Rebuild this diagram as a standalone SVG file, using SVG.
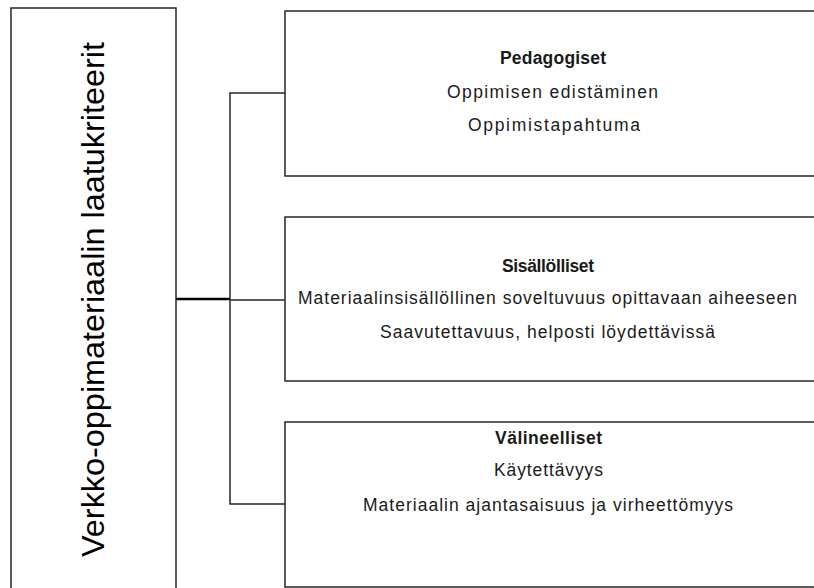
<svg xmlns="http://www.w3.org/2000/svg" width="814" height="588" viewBox="0 0 814 588">
<style>
.box{fill:#ffffff;stroke:#262626;stroke-width:1.5}
.conn{fill:none;stroke:#262626;stroke-width:1.5}
.t{font-family:"Liberation Sans",Arial,sans-serif;font-size:17.5px;fill:#1a1a1a;text-anchor:middle}
.b{font-weight:bold}
.main{font-family:"Liberation Sans",Arial,sans-serif;font-size:32px;fill:#000;text-anchor:middle}
</style>
<rect x="0" y="0" width="814" height="588" fill="#ffffff"/>
<g id="connectors">
<line class="conn" x1="176" y1="299" x2="230" y2="299" style="stroke-width:2.5;stroke:#000"/>
<polyline class="conn" points="285,93 230,93 230,504 285,504"/>
<line class="conn" x1="230" y1="300" x2="285" y2="300"/>
</g>
<g id="root">
<rect class="box" x="11" y="8" width="165" height="600"/>
<text class="main" transform="translate(104,299.5) rotate(-90)" textLength="515" lengthAdjust="spacingAndGlyphs">Verkko-oppimateriaalin  laatukriteerit</text>
</g>
<g id="pedagogiset">
<rect class="box" x="285" y="11" width="540" height="165"/>
<text class="t b" x="553" y="64" textLength="106">Pedagogiset</text>
<text class="t" x="552.5" y="98" textLength="211">Oppimisen edistäminen</text>
<text class="t" x="554" y="131" textLength="172">Oppimistapahtuma</text>
</g>
<g id="sisallolliset">
<rect class="box" x="285" y="217" width="540" height="164"/>
<text class="t b" x="548" y="272" textLength="92">Sisällölliset</text>
<text class="t" x="547.5" y="304" textLength="499">Materiaalinsisällöllinen soveltuvuus opittavaan aiheeseen</text>
<text class="t" x="547.5" y="338" textLength="335">Saavutettavuus, helposti löydettävissä</text>
</g>
<g id="valineelliset">
<rect class="box" x="285" y="422" width="540" height="165"/>
<text class="t b" x="548.5" y="444" textLength="107">Välineelliset</text>
<text class="t" x="548.5" y="476" textLength="109">Käytettävyys</text>
<text class="t" x="548" y="511" textLength="370">Materiaalin ajantasaisuus ja virheettömyys</text>
</g>
</svg>
